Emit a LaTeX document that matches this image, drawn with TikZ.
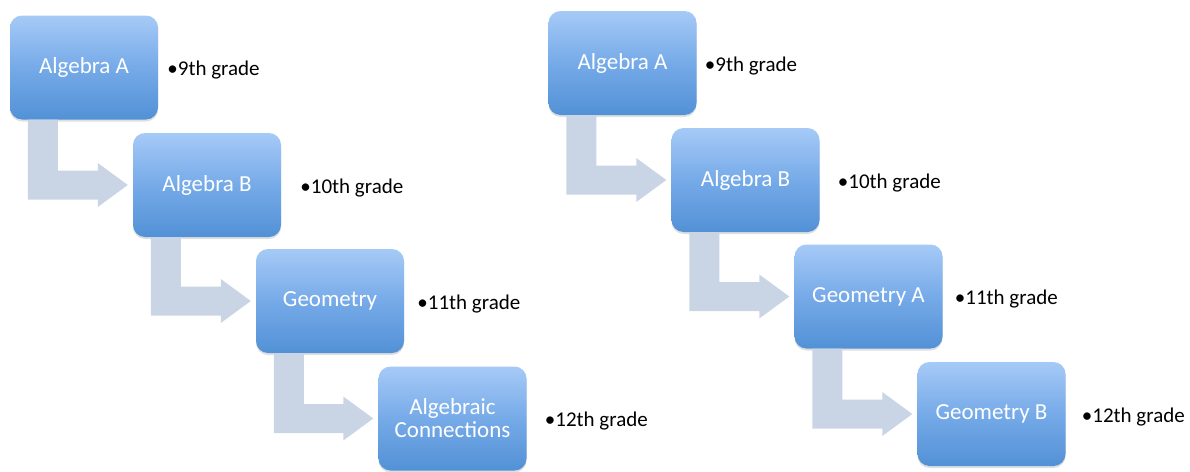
\documentclass[tikz,border=0pt]{standalone}
\usepackage{fontspec}
\setmainfont{Carlito}
\usetikzlibrary{calc,positioning,shadows}

\definecolor{boxtop}{RGB}{166,202,247}
\definecolor{boxmid}{RGB}{118,170,232}
\definecolor{boxbot}{RGB}{82,145,214}
\definecolor{flowgray}{RGB}{201,213,229}

\tikzset{
  course/.style={rounded corners=12pt, minimum width=148pt, minimum height=104pt,
    top color=boxtop, bottom color=boxbot, middle color=boxmid, text=white,
    font=\fontsize{23}{23}\selectfont, align=center,
    drop shadow={opacity=0.25, shadow xshift=0pt, shadow yshift=-2pt}},
  grade/.style={font=\fontsize{21}{21}\selectfont, inner sep=0pt, yshift=-3pt},
  flow/.style={fill=flowgray}
}

% bent arrow from the bottom of one course to the left side of the next
\newcommand{\bentarrow}[2]{%
  \fill[flow] ($(#1.south west)+(18,0)$) |- ($(#2.west)+(-35,-14.5)$)
    -- ++(0,-7.5) -- ($(#2.west)+(-5,0)$) -- ($(#2.west)+(-35,22)$)
    -- ++(0,-7.5) -| ($(#1.south west)+(48,0)$) -- cycle;}

\begin{document}
\begin{tikzpicture}[x=1pt, y=1pt]
\useasboundingbox (0,0) rectangle (1190,-471);
% left sequence
\node[course] (alga) at (84,-67.5) {Algebra A};
\node[course] (algb) at (207,-185) {Algebra B};
\node[course] (geom) at (330,-301) {Geometry};
\node[course] (algc) at (452.5,-418.5) {Algebraic\\Connections};
\node[grade, right=9pt of alga] (g9) {•9th grade};
\node[grade, right=19pt of algb] (g10) {•10th grade};
\node[grade, right=13pt of geom] (g11) {•11th grade};
\node[grade, right=18pt of algc] (g12) {•12th grade};
\bentarrow{alga}{algb}
\bentarrow{algb}{geom}
\bentarrow{geom}{algc}
% right sequence
\node[course] (ralga) at (622.5,-63) {Algebra A};
\node[course] (ralgb) at (745.5,-180) {Algebra B};
\node[course] (rgeoma) at (868.5,-296.5) {Geometry A};
\node[course] (rgeomb) at (991.5,-414) {Geometry B};
\node[grade, right=8pt of ralga] (rg9) {•9th grade};
\node[grade, right=18pt of ralgb] (rg10) {•10th grade};
\node[grade, right=12pt of rgeoma] (rg11) {•11th grade};
\node[grade, right=16pt of rgeomb] (rg12) {•12th grade};
\bentarrow{ralga}{ralgb}
\bentarrow{ralgb}{rgeoma}
\bentarrow{rgeoma}{rgeomb}
\end{tikzpicture}
\end{document}
